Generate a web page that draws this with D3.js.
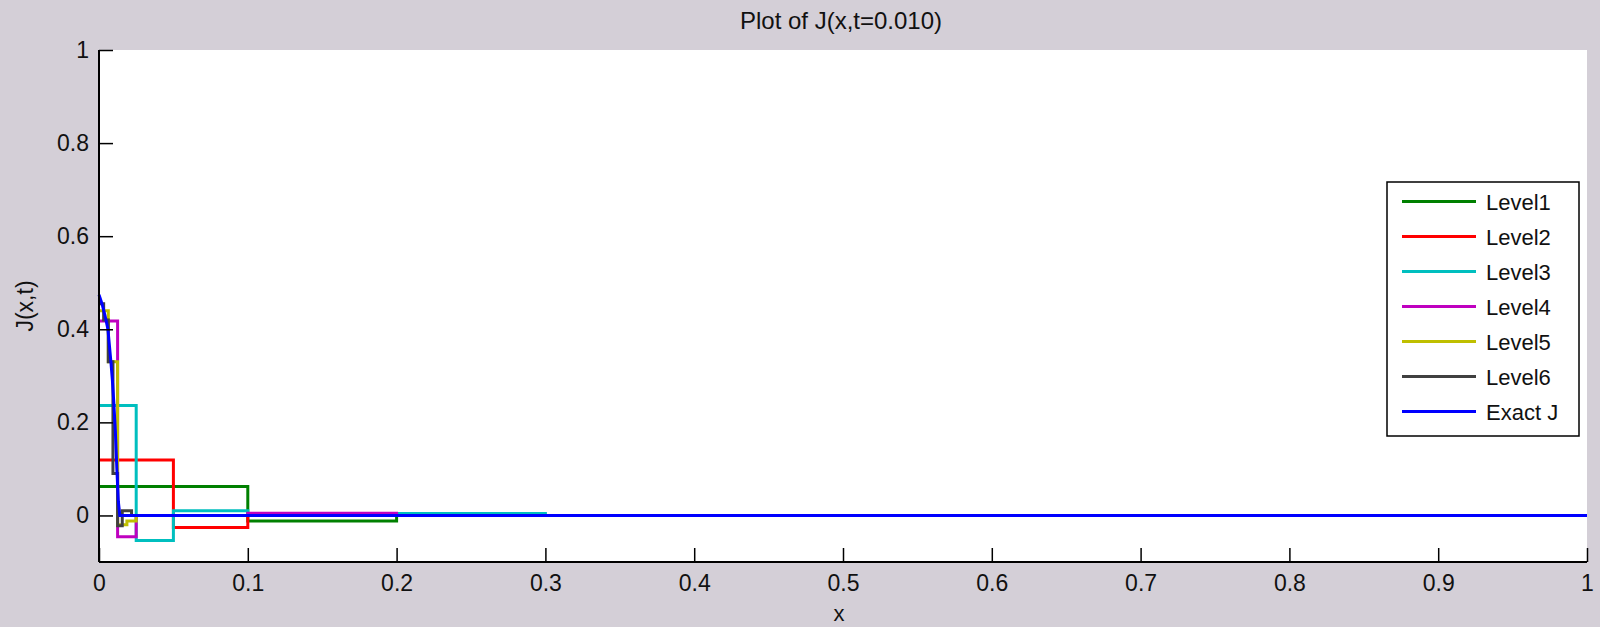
<!DOCTYPE html>
<html>
<head>
<meta charset="utf-8">
<script src="https://cdn.jsdelivr.net/npm/d3@7"></script>
<style>
  html, body { margin: 0; padding: 0; background: #d4cfd7; }
  svg { display: block; }
  text { font-family: "Liberation Sans", Arial, Helvetica, sans-serif; fill: #111; }
</style>
</head>
<body>
<svg id="chart" width="1600" height="627"></svg>
<script>
// Piecewise-constant approximations of J(x, t=0.010) at each level.
// Each level uses uniform bins of the given width; values beyond the listed bins are zero.
const levelNames = ["Level1", "Level2", "Level3", "Level4", "Level5", "Level6", "Exact J"];
const levelColors = ["#008000", "#ff0000", "#00bfbf", "#bf00bf", "#bfbf00", "#404040", "#0000ff"];
const binWidths = [0.1, 0.05, 0.025, 0.0125, 0.00625, 0.003125];

const level1 = [0.062, -0.012, 0];
const level2 = [0.119, -0.026, 0];
const level3 = [0.236, -0.054, 0.01, 0.01, 0.004, 0.004, 0.004, 0.004, 0.004, 0.004, 0.004, 0.004, 0];
const level4 = [0.418, -0.046, 0, 0, 0, 0, 0, 0, 0.005, 0.005, 0.005, 0.005, 0.005, 0.005, 0.005, 0.005, 0];
const level5 = [0.44, 0.33, -0.02, -0.012, 0];
const level6 = [0.455, 0.42, 0.33, 0.09, -0.022, 0.01, 0.01, 0];

// Exact solution sampled on x
const exactX = [0, 0.002, 0.004, 0.006, 0.008, 0.009, 0.010, 0.011, 0.012, 0.013, 0.014, 0.02, 1];
const exactJ = [0.474, 0.455, 0.43, 0.40, 0.33, 0.29, 0.24, 0.18, 0.10, 0.03, 0.0, 0.0, 0.0];

const xTickValues = [0, 0.1, 0.2, 0.3, 0.4, 0.5, 0.6, 0.7, 0.8, 0.9, 1];
const xTickLabels = ["0", "0.1", "0.2", "0.3", "0.4", "0.5", "0.6", "0.7", "0.8", "0.9", "1"];
const yTickValues = [0, 0.2, 0.4, 0.6, 0.8, 1];
const yTickLabels = ["0", "0.2", "0.4", "0.6", "0.8", "1"];

const titleText = "Plot of J(x,t=0.010)";
const xLabel = "x";
const yLabel = "J(x,t)";

const svg = d3.select("#chart");
const plot = { left: 99, right: 1587, top: 50, bottom: 562 };

const x = d3.scaleLinear().domain([0, 1]).range([plot.left, plot.right]);
const y = d3.scaleLinear().domain([-0.1, 1]).range([plot.bottom, plot.top]);

// white axes area
svg.append("rect")
  .attr("x", plot.left).attr("y", plot.top)
  .attr("width", plot.right - plot.left).attr("height", plot.bottom - plot.top)
  .attr("fill", "#ffffff");

// series
function stepPoints(values, w) {
  const pts = values.map((v, i) => [i * w, v]);
  pts.push([1, values[values.length - 1]]);
  return pts;
}
const stepLine = d3.line().x(d => x(d[0])).y(d => y(d[1])).curve(d3.curveStepAfter);
const plainLine = d3.line().x(d => x(d[0])).y(d => y(d[1]));

const levels = [level1, level2, level3, level4, level5, level6];
const series = svg.append("g").attr("fill", "none").attr("stroke-width", 3)
  .attr("stroke-linejoin", "miter");
levels.forEach((vals, k) => {
  series.append("path")
    .attr("d", stepLine(stepPoints(vals, binWidths[k])))
    .attr("stroke", levelColors[k]);
});
series.append("path")
  .attr("d", plainLine(exactX.map((xv, i) => [xv, exactJ[i]])))
  .attr("stroke", levelColors[6]);

// axes (ticks point inward)
const xAxis = d3.axisBottom(x).tickValues(xTickValues)
  .tickFormat((d, i) => xTickLabels[i]).tickSizeInner(-14).tickSizeOuter(0).tickPadding(13);
const gx = svg.append("g").attr("transform", `translate(0,${plot.bottom})`).call(xAxis);
const yAxis = d3.axisLeft(y).tickValues(yTickValues)
  .tickFormat((d, i) => yTickLabels[i]).tickSizeInner(-14).tickSizeOuter(0).tickPadding(10);
const gy = svg.append("g").attr("transform", `translate(${plot.left},0)`).call(yAxis);

[gx, gy].forEach(g => {
  g.select(".domain").attr("stroke", "#000").attr("stroke-width", 2);
  g.selectAll(".tick line").attr("stroke", "#000").attr("stroke-width", 1.5);
  g.selectAll(".tick text").style("font-size", "23px").attr("fill", "#111")
    .style("font-family", "'Liberation Sans', Arial, sans-serif");
});
gx.select(".domain").attr("d", `M${plot.left},0H${plot.right}`);
gy.select(".domain").attr("d", `M0,${plot.bottom}V${plot.top}`);

// title and axis labels
svg.append("text").attr("x", (plot.left + plot.right) / 2 - 2).attr("y", 29)
  .attr("text-anchor", "middle").style("font-size", "24px").text(titleText);
svg.append("text").attr("x", (plot.left + plot.right) / 2 - 4).attr("y", 621)
  .attr("text-anchor", "middle").style("font-size", "22px").text(xLabel);
svg.append("text")
  .attr("transform", `translate(33,${(plot.top + plot.bottom) / 2}) rotate(-90)`)
  .attr("text-anchor", "middle").style("font-size", "23px").text(yLabel);

// legend
const legend = svg.append("g");
legend.append("rect").attr("x", 1387).attr("y", 182).attr("width", 192).attr("height", 254)
  .attr("fill", "#ffffff").attr("stroke", "#000").attr("stroke-width", 1.5);
levelNames.forEach((name, i) => {
  const cy = 201.5 + i * 35;
  legend.append("line").attr("x1", 1402).attr("x2", 1476).attr("y1", cy).attr("y2", cy)
    .attr("stroke", levelColors[i]).attr("stroke-width", 3);
  legend.append("text").attr("x", 1486).attr("y", cy + 8).style("font-size", "22px").text(name);
});
</script>
</body>
</html>
